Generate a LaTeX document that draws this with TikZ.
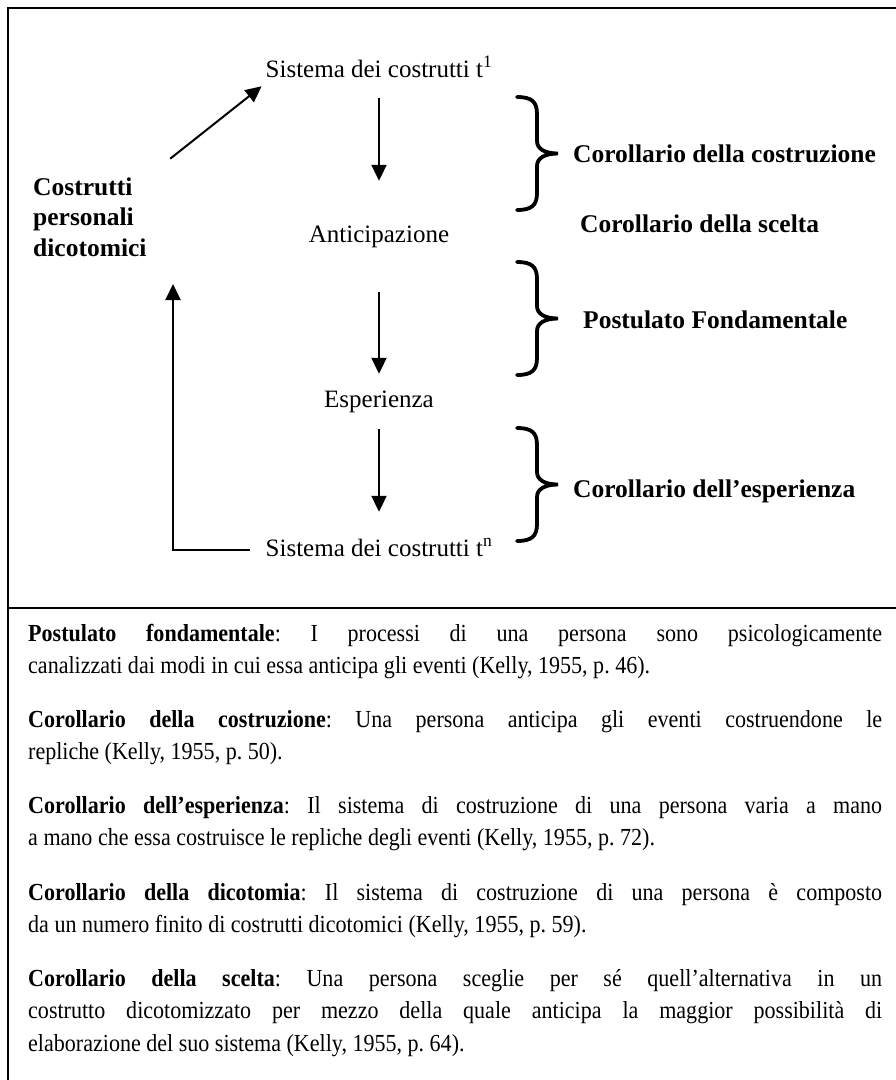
\documentclass[tikz,border=0pt]{standalone}
\usepackage{fontspec}
\setmainfont{Liberation Serif}
\newfontfamily\bodyfont[FakeStretch=0.9]{Liberation Serif}
\usetikzlibrary{arrows.meta}
\frenchspacing

\begin{document}
\begin{tikzpicture}[x=1pt, y=-1pt,
  frame/.style={line width=2.5pt},
  flow/.style={line width=2pt, -{Triangle[length=16pt,width=15pt]}},
  term/.style={font=\fontsize{25}{30}\selectfont, inner sep=0pt,
    text height=18pt, text depth=6pt, anchor=base},
  lab/.style={font=\bfseries\fontsize{25.5}{30.5}\selectfont, inner sep=0pt,
    anchor=base west},
  para/.style={font={\bodyfont\fontsize{24.5}{32.5}\selectfont\tolerance=10000
      \hbadness=10000 \hyphenpenalty=10000 \exhyphenpenalty=10000 },
    inner sep=0pt, text width=854pt, align=justify, anchor=base west},
  kbrace/.pic={\draw[line width=3.8pt, line cap=round]
    (0,0) .. controls (15,0) and (20,5) .. (20,17) -- (20,44)
    .. controls (20,52) and (28,56.5) .. (41,56.5)
    .. controls (28,56.5) and (20,61) .. (20,69) -- (20,96)
    .. controls (20,108) and (15,113) .. (0,113);}
]
\useasboundingbox (0,0) rectangle (896,1080);
\fill[white] (0,0) rectangle (896,1080);

% outer frame and divider between diagram and definitions
\draw[frame] (8,1080) -- (8,8) -- (896,8);
\draw[frame] (8,608) -- (896,608);

% the cycle of construction
\node[term] (t1) at (379,77) {Sistema dei costrutti t\textsuperscript{1}};
\node[term] (antic) at (379,242) {Anticipazione};
\node[term] (esp) at (379,407) {Esperienza};
\node[term] (tn) at (379,556) {Sistema dei costrutti t\textsuperscript{n}};
\node[lab, anchor=west, align=left] (cpd) at (33,217) {Costrutti\\personali\\dicotomici};
\coordinate (back) at (173,284);

\draw[flow, shorten <=15pt, shorten >=43pt] (t1.south) -- (antic.north);
\draw[flow, shorten <=44pt, shorten >=15pt] (antic.south) -- (esp.north);
\draw[flow, shorten <=16pt, shorten >=26pt] (esp.south) -- (tn.north);
\draw[flow, shorten <=30pt, shorten >=5pt] (cpd.north east) -- (t1.south west);
\draw[flow, shorten <=16pt] (tn.west) -| (back);

% braces and corollaries
\pic at (517,97) {kbrace};
\pic at (517,262) {kbrace};
\pic at (517,428) {kbrace};
\node[lab] (cc) at (573,162) {Corollario della costruzione};
\node[lab] (cs) at (580,232) {Corollario della scelta};
\node[lab] (pf) at (583,328) {Postulato Fondamentale};
\node[lab] (ce) at (573,497) {Corollario dell’esperienza};

% definitions
\node[para] (p1) at (28,641) {\textbf{Postulato fondamentale}: I processi di una persona sono psicologicamente\linebreak canalizzati dai modi in cui essa anticipa gli eventi (Kelly, 1955, p.~46).};
\node[para] (p2) at (28,727) {\textbf{Corollario della costruzione}: Una persona anticipa gli eventi costruendone le\linebreak repliche (Kelly, 1955, p.~50).};
\node[para] (p3) at (28,813) {\textbf{Corollario dell’esperienza}: Il sistema di costruzione di una persona varia a mano\linebreak a mano che essa costruisce le repliche degli eventi (Kelly, 1955, p.~72).};
\node[para] (p4) at (28,900) {\textbf{Corollario della dicotomia}: Il sistema di costruzione di una persona è composto\linebreak da un numero finito di costrutti dicotomici (Kelly, 1955, p.~59).};
\node[para] (p5) at (28,986) {\textbf{Corollario della scelta}: Una persona sceglie per sé quell’alternativa in un\linebreak costrutto dicotomizzato per mezzo della quale anticipa la maggior possibilità di\linebreak elaborazione del suo sistema (Kelly, 1955, p.~64).};
\end{tikzpicture}
\end{document}
